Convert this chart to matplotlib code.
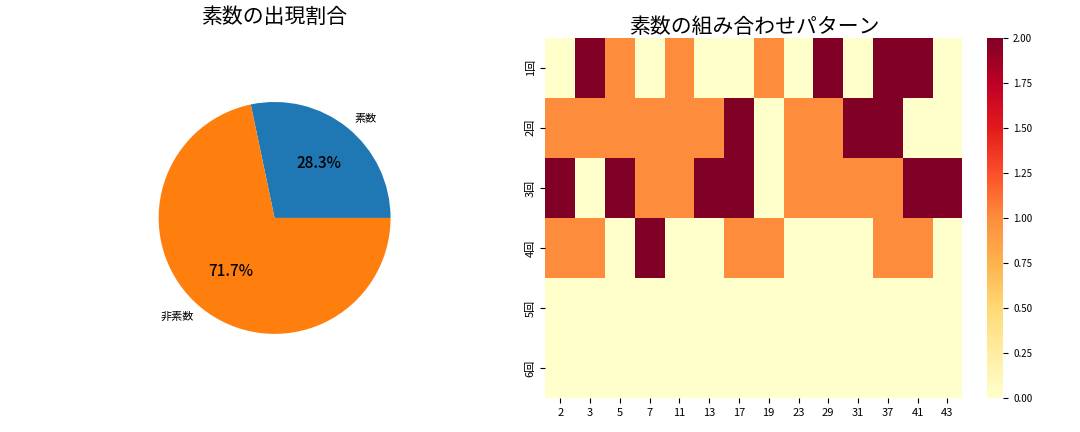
import numpy as np
import matplotlib
matplotlib.use('Agg')
import matplotlib.pyplot as plt
import seaborn as sns

plt.rcParams['font.family'] = ['Noto Sans CJK JP', 'DejaVu Sans']

pie_labels = ['素数', '非素数']
pie_values = [28.3, 71.7]

primes = ['2', '3', '5', '7', '11', '13', '17', '19', '23', '29', '31', '37', '41', '43']
rounds = ['1回', '2回', '3回', '4回', '5回', '6回']
counts = [
    [0, 2, 1, 0, 1, 0, 0, 1, 0, 2, 0, 2, 2, 0],
    [1, 1, 1, 1, 1, 1, 2, 0, 1, 1, 2, 2, 0, 0],
    [2, 0, 2, 1, 1, 2, 2, 0, 1, 1, 1, 1, 2, 2],
    [1, 1, 0, 2, 0, 0, 1, 1, 0, 0, 0, 1, 1, 0],
    [0] * 14,
    [0] * 14,
]

fig = plt.figure(figsize=(10.8, 4.32), dpi=100)
ax1 = fig.add_axes([0.12, 0.16, 0.2685, 0.671])
ax2 = fig.add_axes([0.505, 0.078, 0.386, 0.835])
cax = fig.add_axes([0.914, 0.078, 0.015, 0.835])

ax1.pie(pie_values, labels=pie_labels, autopct='%1.1f%%', startangle=0,
        textprops={'fontsize': 8})
for t in ax1.texts[1::2]:
    t.set_fontsize(11)
    t.set_fontweight('medium')
ax1.set_title('素数の出現割合', fontsize=15, pad=36)
ax1.set_aspect('equal')

sns.heatmap(np.array(counts), cmap='YlOrRd', ax=ax2, cbar_ax=cax,
            xticklabels=primes, yticklabels=rounds, vmin=0, vmax=2)
ax2.set_title('素数の組み合わせパターン', fontsize=15, pad=3)
ax2.tick_params(labelsize=8)
cax.tick_params(labelsize=7)

fig.savefig('out.png')
